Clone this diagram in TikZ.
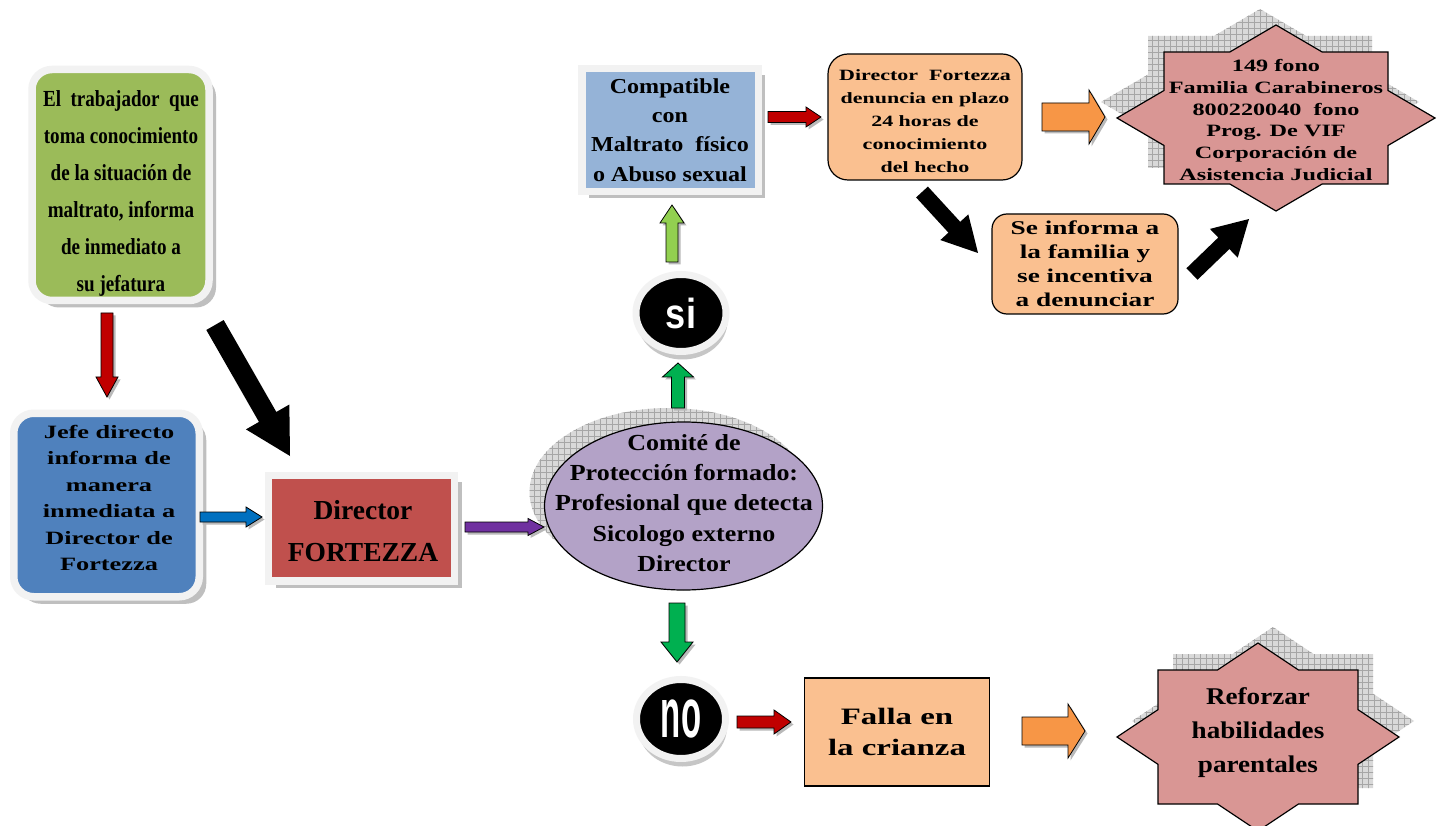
\documentclass[tikz,border=0pt]{standalone}
\usepackage{fontspec}
\setmainfont{Liberation Serif}
\newfontfamily\condf[FakeStretch=0.83]{Liberation Serif}
\newfontfamily\medf[FakeStretch=1.13]{Liberation Serif}
\newfontfamily\widef[FakeStretch=1.4]{Liberation Serif}
\newfontfamily\sisf[FakeStretch=0.86]{Liberation Sans}
\newfontfamily\nosf[FakeStretch=0.47]{Liberation Sans}
\usetikzlibrary{calc,shapes.geometric,shadows,patterns.meta}
\definecolor{cGreen}{HTML}{9BBB59}
\definecolor{cBlue}{HTML}{4F81BD}
\definecolor{cRed}{HTML}{C0504D}
\definecolor{cLBlue}{HTML}{95B3D7}
\definecolor{cPurple}{HTML}{B3A2C7}
\definecolor{cPeach}{HTML}{FAC090}
\definecolor{cPink}{HTML}{D99694}
\definecolor{aOrange}{HTML}{F79646}
\definecolor{aRed}{HTML}{C00000}
\definecolor{aBlue}{HTML}{0070C0}
\definecolor{aPurple}{HTML}{7030A0}
\definecolor{aGreen}{HTML}{00B050}
\definecolor{aLGreen}{HTML}{92D050}
\definecolor{frameW}{HTML}{F2F2F2}
\newcommand\barrow[6]{%
  \coordinate (bh) at ($(#3)!#6!(#2)$);
  \path[#1] ($(#2)!#4!90:(#3)$) -- ($(bh)!#4!90:(#3)$) -- ($(bh)!#5!90:(#3)$) -- (#3)
    -- ($(bh)!#5!-90:(#3)$) -- ($(bh)!#4!-90:(#3)$) -- ($(#2)!#4!-90:(#3)$) -- cycle;
}
\newcommand\eightstar[7]{%
  \pgfmathsetmacro\stX{#6*(1-#5/#7)}%
  \pgfmathsetmacro\stY{#7*(1-#4/#6)}%
  \path[#1] (0,-#7) -- (\stX,-#5) -- (#4,-#5) -- (#4,-\stY) -- (#6,0) -- (#4,\stY) -- (#4,#5)
    -- (\stX,#5) -- (0,#7) -- (-\stX,#5) -- (-#4,#5) -- (-#4,\stY) -- (-#6,0) -- (-#4,-\stY)
    -- (-#4,-#5) -- (-\stX,-#5) -- cycle;
}
\tikzset{
  framebox/.style={draw=frameW, line width=7.5pt, inner sep=0pt, align=center,
    drop shadow={shadow xshift=7pt, shadow yshift=-7pt, fill=gray!50, opacity=1}},
  peachbox/.style={draw=black, line width=1.2pt, fill=cPeach, inner sep=0pt, align=center},
  hatchshadow/.style={fill=gray!30, postaction={pattern={Hatch[distance=6pt,line width=0.45pt]}, pattern color=gray!70}},
  starshape/.style={fill=cPink, draw=black, line width=1.2pt, line join=miter},
  blockarrow/.style={fill=#1, draw=black, line width=0.8pt, line join=miter,
    preaction={fill=gray!55, transform canvas={xshift=2.5pt, yshift=-2.5pt}}},
  blackarrow/.style={fill=black},
  circ/.style={ellipse, fill=black, draw=frameW, line width=7pt, inner sep=0pt, text=white,
    drop shadow={shadow xshift=1.5pt, shadow yshift=-8pt, fill=gray!45, opacity=1}},
  txt/.style={align=center, inner sep=0pt}
}
\begin{document}
\begin{tikzpicture}[x=1pt,y=-1pt]
\useasboundingbox (0,0) rectangle (1441,826);
\fill[white] (0,0) rectangle (1441,826);

% shadows of ellipse and stars
\path[hatchshadow] (668.5,492) ellipse [x radius=139pt, y radius=84pt];
\begin{scope}[shift={(1260,102)}]
  \eightstar{hatchshadow}{0}{0}{112}{66}{159}{93}
\end{scope}
\begin{scope}[shift={(1273,721)}]
  \eightstar{hatchshadow}{0}{0}{100}{67}{141}{94}
\end{scope}

% boxes
\node[framebox, fill=cGreen, rounded corners=20pt, minimum width=177pt, minimum height=231pt] (green) at (120.5,185) {};
\node[txt, font=\condf\bfseries\fontsize{23}{37}\selectfont] (greentxt) at (121,193)
  {El\ \ trabajador\ \ que\\toma conocimiento\\de la situación de\\maltrato, informa\\de inmediato a\\su jefatura};
\node[framebox, fill=cBlue, rounded corners=20pt, minimum width=185.5pt, minimum height=183.5pt] (jefe) at (106.5,505) {};
\node[txt, font=\widef\bfseries\fontsize{18.8}{26.4}\selectfont] (jefetxt) at (109,498)
  {Jefe directo\\informa de\\manera\\inmediata a\\Director de\\Fortezza};
\node[framebox, fill=cRed, minimum width=186pt, minimum height=105.5pt] (dir) at (361.5,528) {};
\node[txt, font=\bfseries\fontsize{27.5}{42}\selectfont] (dirtxt) at (363,531)
  {Director\\FORTEZZA};
\node[ellipse, fill=cPurple, draw=black, line width=1.2pt, inner sep=0pt, minimum width=278pt, minimum height=168pt] (comite) at (683.5,506) {};
\node[txt, font=\medf\bfseries\fontsize{23}{30.2}\selectfont] (comitetxt) at (684,503)
  {Comité de\\Protección formado:\\Profesional que detecta\\Sicologo externo\\Director};
\node[framebox, fill=cLBlue, minimum width=176.5pt, minimum height=123pt,
  font=\medf\bfseries\fontsize{21.3}{29.3}\selectfont] (compat) at (670,130)
  {Compatible\\con\\Maltrato\ \ físico\\o Abuso sexual};
\node[peachbox, rounded corners=20pt, minimum width=194pt, minimum height=126pt] (dirf) at (925,117) {};
\node[txt, font=\widef\bfseries\fontsize{15.7}{23}\selectfont] (dirftxt) at (925,121)
  {Director\ \ Fortezza\\denuncia en plazo\\24 horas de\\conocimiento\\del hecho};
\node[peachbox, rounded corners=15pt, minimum width=186pt, minimum height=100pt,
  font=\widef\bfseries\fontsize{19.5}{24}\selectfont] (seinf) at (1085,264)
  {Se informa a\\la familia y\\se incentiva\\a denunciar};
\node[peachbox, minimum width=185pt, minimum height=108pt,
  font=\widef\bfseries\fontsize{23.5}{31}\selectfont] (falla) at (897,732)
  {Falla en\\la crianza};

% stars
\begin{scope}[shift={(1276,118)}]
  \eightstar{starshape}{0}{0}{112}{66}{159}{93}
\end{scope}
\node[txt, font=\widef\bfseries\fontsize{17.3}{21.8}\selectfont] (star1) at (1276,120)
  {149 fono\\Familia Carabineros\\800220040\ \ fono\\Prog. De VIF\\Corporación de\\Asistencia Judicial};
\begin{scope}[shift={(1258,737)}]
  \eightstar{starshape}{0}{0}{100}{67}{141}{94}
\end{scope}
\node[txt, font=\medf\bfseries\fontsize{24}{34}\selectfont] (star2) at (1258,733)
  {Reforzar\\habilidades\\parentales};

% si / no
\node[circ, minimum width=90pt, minimum height=77pt, font=\sisf\bfseries\fontsize{42}{42}\selectfont] (si) at (681,313) {si};
\node[circ, minimum width=89pt, minimum height=79pt, font=\nosf\bfseries\fontsize{70}{70}\selectfont] (no) at (681,719) {no};

% connector end points
\coordinate (a1s) at (107,313);  \coordinate (a1e) at (107,397);
\coordinate (a2s) at (215,325);  \coordinate (a2e) at (290,456);
\coordinate (a3s) at (200,517);  \coordinate (a3e) at (262,517);
\coordinate (a4s) at (465,527);  \coordinate (a4e) at (544,527);
\coordinate (a5s) at (678,408);  \coordinate (a5e) at (678,363);
\coordinate (a6s) at (672,262);  \coordinate (a6e) at (672,205);
\coordinate (a7s) at (768,117);  \coordinate (a7e) at (821,117);
\coordinate (a8s) at (1042,117); \coordinate (a8e) at (1105,117);
\coordinate (a9s) at (922,192);  \coordinate (a9e) at (978,253);
\coordinate (a10s) at (1192,274); \coordinate (a10e) at (1249,219);
\coordinate (a11s) at (677,603); \coordinate (a11e) at (677,662);
\coordinate (a12s) at (737,722); \coordinate (a12e) at (791,722);
\coordinate (a13s) at (1022,731); \coordinate (a13e) at (1085,731);

% arrows
\barrow{blockarrow=aRed}{a1s}{a1e}{6pt}{11pt}{20pt}
\barrow{blackarrow}{a2s}{a2e}{10pt}{25pt}{45pt}
\barrow{blockarrow=aBlue}{a3s}{a3e}{5pt}{10pt}{16pt}
\barrow{blockarrow=aPurple}{a4s}{a4e}{5pt}{8.5pt}{16pt}
\barrow{blockarrow=aGreen}{a5s}{a5e}{6.5pt}{15.5pt}{14pt}
\barrow{blockarrow=aLGreen}{a6s}{a6e}{6pt}{12pt}{18pt}
\barrow{blockarrow=aRed}{a7s}{a7e}{5.5pt}{10pt}{15pt}
\barrow{blockarrow=aOrange}{a8s}{a8e}{14pt}{27pt}{16pt}
\barrow{blackarrow}{a9s}{a9e}{8pt}{19pt}{35pt}
\barrow{blackarrow}{a10s}{a10e}{8pt}{20pt}{35pt}
\barrow{blockarrow=aGreen}{a11s}{a11e}{8pt}{16pt}{20pt}
\barrow{blockarrow=aRed}{a12s}{a12e}{6pt}{12pt}{17pt}
\barrow{blockarrow=aOrange}{a13s}{a13e}{14pt}{27pt}{17pt}
\end{tikzpicture}
\end{document}
